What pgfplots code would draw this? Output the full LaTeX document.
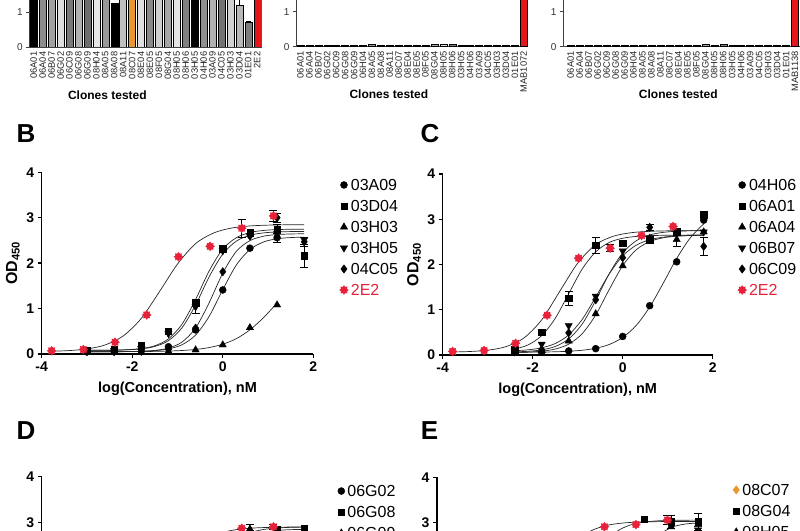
\documentclass[border=0pt]{standalone}
\usepackage{fontspec}
\setmainfont{Liberation Sans}
\usepackage{pgfplots}
\pgfplotsset{compat=1.18}
\usetikzlibrary{plotmarks}
\definecolor{rtwo}{HTML}{E8213A}
\definecolor{barred}{HTML}{E3161B}
\definecolor{orng}{HTML}{E8962E}
\newcommand{\fs}[1]{\fontsize{#1}{#1}\selectfont}
\newcommand{\onebar}[3]{\addplot[fill=#1] coordinates {(#2,#3)};}
\newcommand{\errbar}[4]{\addplot[fill=#1, error bars/.cd, y dir=plus, y explicit, error bar style={line width=0.6pt,black}, error mark options={rotate=90,mark size=2.5pt,line width=0.6pt,black}] coordinates {(#2,#3) +- (0,#4)};}
\pgfdeclareplotmark{burst}{%
  \pgfpathmoveto{\pgfpointpolar{90}{\pgfplotmarksize}}%
  \pgfpathlineto{\pgfpointpolar{112.5}{0.7\pgfplotmarksize}}%
  \pgfpathlineto{\pgfpointpolar{135}{\pgfplotmarksize}}%
  \pgfpathlineto{\pgfpointpolar{157.5}{0.7\pgfplotmarksize}}%
  \pgfpathlineto{\pgfpointpolar{180}{\pgfplotmarksize}}%
  \pgfpathlineto{\pgfpointpolar{202.5}{0.7\pgfplotmarksize}}%
  \pgfpathlineto{\pgfpointpolar{225}{\pgfplotmarksize}}%
  \pgfpathlineto{\pgfpointpolar{247.5}{0.7\pgfplotmarksize}}%
  \pgfpathlineto{\pgfpointpolar{270}{\pgfplotmarksize}}%
  \pgfpathlineto{\pgfpointpolar{292.5}{0.7\pgfplotmarksize}}%
  \pgfpathlineto{\pgfpointpolar{315}{\pgfplotmarksize}}%
  \pgfpathlineto{\pgfpointpolar{337.5}{0.7\pgfplotmarksize}}%
  \pgfpathlineto{\pgfpointpolar{0}{\pgfplotmarksize}}%
  \pgfpathlineto{\pgfpointpolar{22.5}{0.7\pgfplotmarksize}}%
  \pgfpathlineto{\pgfpointpolar{45}{\pgfplotmarksize}}%
  \pgfpathlineto{\pgfpointpolar{67.5}{0.7\pgfplotmarksize}}%
  \pgfpathclose\pgfusepathqfillstroke}
\pgfplotsset{
  barax/.style={scale only axis, anchor=south west, height=52.5pt,
    ymin=0, ymax=1.5, ytick={0,1}, xmax=25.5, enlargelimits=false,
    axis lines=left, axis line style={-, line width=0.8pt, black!75},
    ytick style={line width=0.8pt, black!75}, major tick length=3pt, tick align=outside,
    xtick={0,...,25}, xtick style={draw=none},
    xticklabel style={rotate=90, anchor=east, font=\fs{9.3}, inner sep=1.5pt, text=black!85},
    yticklabel style={font=\fs{10}, text=black!80},
    /pgf/number format/assume math mode=true,
    xlabel={Clones tested}, xlabel style={font=\bfseries\fs{12}, anchor=center},
    ybar, bar width=7pt,
    every axis plot post/.append style={bar shift=0pt, draw=black, line width=0.4pt},
  },
  doseax/.style={scale only axis, anchor=south west,
    xmin=-4, xmax=2, ymin=0, ymax=4, enlargelimits=false,
    xtick={-4,-2,0,2}, ytick={0,1,2,3,4},
    axis lines=left, axis line style={-, line width=1.3pt, black},
    tick align=outside, major tick length=4pt, tick style={line width=1.3pt, black},
    /pgf/number format/assume math mode=true,
    ticklabel style={font=\bfseries\fs{14}},
    xlabel={log(Concentration), nM},
    xlabel style={font=\bfseries\fs{14.5}, at={(axis description cs:0.5,-0.19)}, anchor=center},
    ylabel={OD\textsubscript{450}},
    ylabel style={font=\bfseries\fs{16}, at={(axis description cs:-0.106,0.5)}, anchor=center},
    legend cell align=left,
    legend style={draw=none, fill=none, font=\fs{16}, anchor=north west, column sep=2.5pt, row sep=9.5pt, nodes={inner sep=0pt, text height=11.5pt, text depth=0pt}},
    legend image code/.code={\draw[#1,only marks] plot coordinates {(0pt,0pt)};},
  },
  lowax/.style={ytick={3,4}, xticklabels={}, xlabel={}, ylabel={}},
  crv/.style={black!85, line width=0.7pt, smooth, no marks, forget plot},
  ebar/.style={forget plot, only marks, no marks, black,
    /pgfplots/error bars/y dir=both, /pgfplots/error bars/y explicit,
    /pgfplots/error bars/error bar style={line width=0.9pt, black},
    /pgfplots/error bars/error mark options={rotate=90, mark size=4pt, line width=0.9pt, black}},
  pts/.style={only marks, black},
  mcirc/.style={mark=*, mark size=3.5pt},
  msq/.style={mark=square*, mark size=3.2pt},
  mtri/.style={mark=triangle*, mark size=4.2pt},
  mdown/.style={mark=triangle*, mark size=4.2pt, mark options={rotate=180}},
  mdia/.style={mark=diamond*, mark size=4.2pt},
  mstar/.style={mark=burst, mark size=4.4pt, color=rtwo, mark options={fill=rtwo, draw=rtwo, line width=0.4pt}},
}
\begin{document}
\begin{tikzpicture}[x=1pt,y=1pt]
\useasboundingbox (0,0) rectangle (800,530);
\clip (0,0) rectangle (800,530);

% ---------------- top bar chart 1 ----------------
\begin{axis}[barax, at={(29.3pt,483pt)}, width=232.4pt, xmin=-0.5,
  xticklabels={06A01,06A04,06B07,06G02,06C09,06G08,06G09,08H04,08A05,08A08,08A11,08C07,08E04,08E05,08F05,08G04,08H05,08H06,03H05,04H06,03A09,04C05,03H03,03D04,01E01,2E2},
  xlabel style={at={(axis description cs:0.336,-0.914)}}]
\onebar{black}{0}{2.9}
\onebar{black!45}{1}{2.8}
\onebar{black!37}{2}{2.7}
\onebar{black!13}{3}{2.8}
\onebar{black!52}{4}{2.75}
\onebar{black!30}{5}{2.7}
\onebar{black!57}{6}{2.8}
\onebar{black!10}{7}{2.6}
\onebar{black!40}{8}{2.7}
\onebar{black}{9}{1.25}
\onebar{black!25}{10}{2.6}
\onebar{orng}{11}{2.7}
\onebar{black!12}{12}{2.8}
\onebar{black!46}{13}{2.7}
\onebar{black!19}{14}{2.6}
\onebar{black!35}{15}{2.9}
\onebar{black!11}{16}{2.7}
\onebar{black!50}{17}{2.8}
\onebar{black}{18}{2.9}
\onebar{black!44}{19}{2.6}
\onebar{black!31}{20}{2.7}
\onebar{black!55}{21}{2.8}
\onebar{black!18}{22}{2.7}
\errbar{black!28}{23}{1.2}{0.2}
\errbar{black!51}{24}{0.7}{0.04}
\onebar{barred}{25}{3.0}
\end{axis}

% ---------------- top bar chart 2 ----------------
\begin{axis}[barax, at={(296pt,483.3pt)}, width=232.2pt, xmin=-0.5,
  xticklabels={06A01,06A04,06B07,06G02,06C09,06G08,06G09,06H04,08A05,08A08,08A11,08C07,08E04,08E05,08F05,08G04,08H05,08H06,03H05,04H06,03A09,04C05,03H03,03D04,01E01,MAB1072},
  xlabel style={at={(axis description cs:0.40,-0.914)}}]
\onebar{black}{0}{0.05}
\onebar{black!45}{1}{0.04}
\onebar{black!37}{2}{0.04}
\onebar{black!13}{3}{0.04}
\onebar{black!52}{4}{0.04}
\onebar{black!30}{5}{0.04}
\onebar{black!57}{6}{0.04}
\onebar{black!10}{7}{0.04}
\onebar{black!40}{8}{0.06}
\onebar{black}{9}{0.05}
\onebar{black!25}{10}{0.04}
\onebar{orng}{11}{0.04}
\onebar{black!12}{12}{0.04}
\onebar{black!46}{13}{0.04}
\onebar{black!19}{14}{0.05}
\onebar{black!35}{15}{0.08}
\onebar{black!11}{16}{0.06}
\onebar{black!50}{17}{0.08}
\onebar{black}{18}{0.05}
\onebar{black!44}{19}{0.04}
\onebar{black!31}{20}{0.04}
\onebar{black!55}{21}{0.04}
\onebar{black!18}{22}{0.04}
\onebar{black!28}{23}{0.04}
\onebar{black!51}{24}{0.04}
\onebar{barred}{25}{3.0}
\end{axis}

% ---------------- top bar chart 3 ----------------
\begin{axis}[barax, at={(563pt,483.3pt)}, width=236.5pt, xmin=-0.86,
  xticklabels={06A01,06A04,06B07,06G02,06C09,06G08,06G09,06H04,08A05,08A08,08A11,08C07,08E04,08E05,08F05,08G04,08H05,08H06,03H05,04H06,03A09,04C05,03H03,03D04,01E01,MAB1138},
  xlabel style={at={(axis description cs:0.4875,-0.914)}}]
\onebar{black}{0}{0.05}
\onebar{black!45}{1}{0.04}
\onebar{black!37}{2}{0.04}
\onebar{black!13}{3}{0.04}
\onebar{black!52}{4}{0.05}
\onebar{black!30}{5}{0.04}
\onebar{black!57}{6}{0.04}
\onebar{black!10}{7}{0.04}
\onebar{black!40}{8}{0.04}
\onebar{black}{9}{0.05}
\onebar{black!25}{10}{0.04}
\onebar{orng}{11}{0.05}
\onebar{black!12}{12}{0.04}
\onebar{black!46}{13}{0.04}
\onebar{black!19}{14}{0.04}
\onebar{black!35}{15}{0.07}
\onebar{black!11}{16}{0.05}
\onebar{black!50}{17}{0.07}
\onebar{black}{18}{0.05}
\onebar{black!44}{19}{0.04}
\onebar{black!31}{20}{0.04}
\onebar{black!55}{21}{0.04}
\onebar{black!18}{22}{0.04}
\onebar{black!28}{23}{0.04}
\onebar{black!51}{24}{0.04}
\onebar{barred}{25}{3.0}
\end{axis}

% ---------------- panel B ----------------
\begin{axis}[doseax, at={(41.7pt,176pt)}, width=271.6pt, height=181.7pt,
  legend style={at={(axis description cs:1.085,0.974)}}]
\addplot[crv] coordinates {(-3.8,0.06)(-3.4,0.075)(-3.0,0.111)(-2.6,0.199)(-2.2,0.397)(-1.8,0.784)(-1.4,1.37)(-1.0,1.98)(-0.6,2.43)(-0.2,2.665)(0.2,2.774)(0.6,2.819)(1.0,2.837)(1.4,2.844)(1.8,2.847)};
\addplot[crv] coordinates {(-3.0,0.081)(-2.7,0.082)(-2.4,0.086)(-2.1,0.095)(-1.8,0.12)(-1.5,0.182)(-1.2,0.333)(-0.9,0.657)(-0.6,1.20)(-0.3,1.83)(0,2.31)(0.3,2.56)(0.6,2.675)(0.9,2.72)(1.2,2.739)(1.5,2.746)(1.8,2.748)};
\addplot[crv] coordinates {(-3.0,0.081)(-2.7,0.082)(-2.4,0.085)(-2.1,0.093)(-1.8,0.113)(-1.5,0.166)(-1.2,0.294)(-0.9,0.578)(-0.6,1.08)(-0.3,1.70)(0,2.20)(0.3,2.485)(0.6,2.614)(0.9,2.666)(1.2,2.687)(1.5,2.695)(1.8,2.698)};
\addplot[crv] coordinates {(-3.0,0.05)(-2.7,0.05)(-2.4,0.051)(-2.1,0.054)(-1.8,0.06)(-1.5,0.079)(-1.2,0.13)(-0.9,0.263)(-0.6,0.573)(-0.3,1.13)(0,1.78)(0.3,2.26)(0.6,2.496)(0.9,2.593)(1.2,2.63)(1.5,2.642)(1.8,2.647)};
\addplot[crv] coordinates {(-3.0,0.05)(-2.7,0.05)(-2.4,0.051)(-2.1,0.053)(-1.8,0.059)(-1.5,0.073)(-1.2,0.111)(-0.9,0.204)(-0.6,0.417)(-0.3,0.83)(0,1.416)(0.3,1.96)(0.6,2.30)(0.9,2.466)(1.2,2.537)(1.5,2.563)(1.8,2.573)};
\addplot[crv] coordinates {(-3.0,0.05)(-2.7,0.05)(-2.4,0.051)(-2.1,0.052)(-1.8,0.054)(-1.5,0.058)(-1.2,0.065)(-0.9,0.077)(-0.6,0.10)(-0.3,0.142)(0,0.215)(0.3,0.338)(0.6,0.532)(0.9,0.80)(1.2,1.125)};
\addplot[ebar] coordinates {(0.42,2.77) +- (0,0.2) (1.12,3.04) +- (0,0.13) (1.2,2.56) +- (0,0.1) (-0.6,1.04) +- (0,0.15) (1.2,2.75) +- (0,0.1) (1.2,3.0) +- (0,0.1) (1.8,2.47) +- (0,0.1) (1.8,2.16) +- (0,0.25)};
\addplot[pts,mcirc] coordinates {(-3,0.07)(-2.4,0.08)(-1.8,0.1)(-1.2,0.16)(-0.6,0.53)(0,1.41)(0.6,2.33)(1.2,2.56)};
\addlegendentry{03A09}
\addplot[pts,msq] coordinates {(-3,0.08)(-2.4,0.1)(-1.8,0.19)(-1.2,0.5)(-0.6,1.13)(0,2.32)(0.6,2.67)(1.2,2.75)(1.8,2.16)};
\addlegendentry{03D04}
\addplot[pts,mtri] coordinates {(-3,0.05)(-2.4,0.05)(-1.8,0.05)(-1.2,0.06)(-0.6,0.09)(0,0.2)(0.6,0.58)(1.2,1.08)};
\addlegendentry{03H03}
\addplot[pts,mdown] coordinates {(-3,0.07)(-2.4,0.08)(-1.8,0.12)(-1.2,0.45)(-0.6,1.04)(0,2.27)(0.6,2.6)(1.2,2.65)(1.8,2.52)};
\addlegendentry{03H05}
\addplot[pts,mdia] coordinates {(-3,0.05)(-2.4,0.05)(-1.8,0.06)(-1.2,0.1)(-0.6,0.57)(0,1.81)(0.6,2.6)(1.2,3.0)(1.8,2.47)};
\addlegendentry{04C05}
\addplot[pts,mstar] coordinates {(-3.78,0.07)(-3.08,0.1)(-2.38,0.26)(-1.68,0.86)(-0.98,2.14)(-0.28,2.37)(0.42,2.77)(1.12,3.04)};
\addlegendentry{\textcolor{rtwo}{2E2}}
\end{axis}

% ---------------- panel C ----------------
\begin{axis}[doseax, at={(442.7pt,175pt)}, width=270pt, height=181pt,
  legend style={at={(axis description cs:1.081,0.983)}}]
\addplot[crv] coordinates {(-3.8,0.066)(-3.4,0.077)(-3.0,0.106)(-2.6,0.183)(-2.2,0.372)(-1.8,0.776)(-1.4,1.405)(-1.0,2.03)(-0.6,2.44)(-0.2,2.627)(0.2,2.704)(0.6,2.733)(1.0,2.744)(1.4,2.748)(1.8,2.749)};
\addplot[crv] coordinates {(-2.4,0.129)(-2.1,0.224)(-1.8,0.428)(-1.5,0.809)(-1.2,1.355)(-0.9,1.90)(-0.6,2.28)(-0.3,2.487)(0,2.58)(0.3,2.62)(0.6,2.638)(0.9,2.645)(1.2,2.648)(1.5,2.65)(1.8,2.65)};
\addplot[crv] coordinates {(-2.4,0.095)(-2.1,0.115)(-1.8,0.159)(-1.5,0.253)(-1.2,0.445)(-0.9,0.787)(-0.6,1.28)(-0.3,1.79)(0,2.19)(0.3,2.426)(0.6,2.547)(0.9,2.604)(1.2,2.63)(1.5,2.641)(1.8,2.646)};
\addplot[crv] coordinates {(-2.4,0.069)(-2.1,0.082)(-1.8,0.114)(-1.5,0.188)(-1.2,0.356)(-0.9,0.684)(-0.6,1.206)(-0.3,1.795)(0,2.258)(0.3,2.524)(0.6,2.653)(0.9,2.71)(1.2,2.735)(1.5,2.744)(1.8,2.747)};
\addplot[crv] coordinates {(-2.4,0.056)(-2.1,0.064)(-1.8,0.084)(-1.5,0.131)(-1.2,0.239)(-0.9,0.471)(-0.6,0.885)(-0.3,1.446)(0,1.974)(0.3,2.325)(0.6,2.507)(0.9,2.59)(1.2,2.625)(1.5,2.64)(1.8,2.645)};
\addplot[crv] coordinates {(-2.4,0.061)(-2.1,0.063)(-1.8,0.066)(-1.5,0.071)(-1.2,0.083)(-0.9,0.105)(-0.6,0.149)(-0.3,0.232)(0,0.388)(0.3,0.653)(0.6,1.061)(0.9,1.586)(1.2,2.134)(1.5,2.587)(1.8,2.898)};
\addplot[ebar] coordinates {(-1.2,1.25) +- (0,0.15) (-0.6,2.42) +- (0,0.17) (-0.28,2.36) +- (0,0.08) (1.2,2.55) +- (0,0.15) (0.6,2.82) +- (0,0.07) (1.8,2.4) +- (0,0.2) (1.2,2.72) +- (0,0.08)};
\addplot[pts,mcirc] coordinates {(-2.4,0.07)(-1.8,0.06)(-1.2,0.09)(-0.6,0.14)(0,0.41)(0.6,1.09)(1.2,2.06)(1.8,2.98)};
\addlegendentry{04H06}
\addplot[pts,msq] coordinates {(-2.4,0.12)(-1.8,0.5)(-1.2,1.25)(-0.6,2.42)(0,2.47)(0.6,2.55)(1.2,2.72)(1.8,3.1)};
\addlegendentry{06A01}
\addplot[pts,mtri] coordinates {(-2.4,0.06)(-1.8,0.1)(-1.2,0.31)(-0.6,0.91)(0,1.97)(0.6,2.58)(1.2,2.55)(1.8,2.72)};
\addlegendentry{06A04}
\addplot[pts,mdown] coordinates {(-2.4,0.1)(-1.8,0.24)(-1.2,0.65)(-0.6,1.3)(0,2.3)(0.6,2.57)(1.2,2.7)(1.8,2.72)};
\addlegendentry{06B07}
\addplot[pts,mdia] coordinates {(-2.4,0.07)(-1.8,0.12)(-1.2,0.49)(-0.6,1.22)(0,2.15)(0.6,2.82)(1.2,2.7)(1.8,2.4)};
\addlegendentry{06C09}
\addplot[pts,mstar] coordinates {(-3.78,0.08)(-3.08,0.1)(-2.38,0.26)(-1.68,0.88)(-0.98,2.14)(-0.28,2.36)(0.42,2.64)(1.12,2.84)};
\addlegendentry{\textcolor{rtwo}{2E2}}
\end{axis}

% ---------------- panel D ----------------
\begin{axis}[doseax, lowax, at={(41.7pt,-129pt)}, width=271.6pt, height=182.3pt,
  legend style={at={(axis description cs:1.078,0.965)}}]
\addplot[crv] coordinates {(-3.8,0.06)(-3.4,0.075)(-3.0,0.112)(-2.6,0.202)(-2.2,0.403)(-1.8,0.797)(-1.4,1.39)(-1.0,2.02)(-0.6,2.47)(-0.2,2.71)(0.2,2.823)(0.6,2.869)(1.0,2.887)(1.4,2.894)(1.8,2.897)};
\addplot[crv] coordinates {(-3.0,0.063)(-2.7,0.066)(-2.4,0.075)(-2.1,0.094)(-1.8,0.136)(-1.5,0.228)(-1.2,0.418)(-0.9,0.767)(-0.6,1.284)(-0.3,1.863)(0,2.329)(0.3,2.619)(0.6,2.769)(0.9,2.842)(1.2,2.874)(1.5,2.889)(1.8,2.895)};
\addplot[crv] coordinates {(-3.0,0.05)(-2.7,0.052)(-2.4,0.055)(-2.1,0.063)(-1.8,0.081)(-1.5,0.125)(-1.2,0.227)(-0.9,0.448)(-0.6,0.859)(-0.3,1.45)(0,2.04)(0.3,2.452)(0.6,2.674)(0.9,2.774)(1.2,2.819)(1.5,2.838)(1.8,2.845)};
\addplot[ebar] coordinates {(0.6,2.85) +- (0,0.1) (1.12,2.9) +- (0,0.05)};
\addplot[pts,mcirc] coordinates {(-3,0.06)(-2.4,0.07)(-1.8,0.1)(-1.2,0.2)(-0.6,0.6)(0,1.5)(0.6,2.3)(1.2,2.6)(1.8,2.7)};
\addlegendentry{06G02}
\addplot[pts,msq] coordinates {(-3,0.06)(-2.4,0.08)(-1.8,0.14)(-1.2,0.42)(-0.6,1.3)(0,2.3)(0.6,2.75)(1.2,2.85)(1.8,2.87)};
\addlegendentry{06G08}
\addplot[pts,mtri] coordinates {(-3,0.05)(-2.4,0.06)(-1.8,0.08)(-1.2,0.22)(-0.6,0.85)(0,2.05)(0.6,2.85)(1.2,2.8)(1.8,2.82)};
\addlegendentry{06G09}
\addplot[pts,mdown,forget plot] coordinates {(-3,0.06)(-2.4,0.08)(-1.8,0.13)(-1.2,0.35)(-0.6,1.1)(0,2.2)(0.6,2.6)(1.2,2.7)(1.8,2.75)};
\addplot[pts,mstar,forget plot] coordinates {(-3.78,0.07)(-3.08,0.1)(-2.38,0.28)(-1.68,0.9)(-0.98,2.15)(-0.28,2.55)(0.42,2.87)(1.12,2.9)};
\end{axis}

% ---------------- panel E ----------------
\begin{axis}[doseax, lowax, at={(437pt,-127.3pt)}, width=270pt, height=180pt,
  legend style={at={(axis description cs:1.083,0.974)}}]
\addplot[crv] coordinates {(-3.8,0.071)(-3.4,0.091)(-3.0,0.143)(-2.6,0.278)(-2.2,0.593)(-1.8,1.173)(-1.4,1.907)(-1.0,2.49)(-0.6,2.80)(-0.2,2.937)(0.2,2.99)(0.6,3.009)(1.0,3.016)(1.4,3.019)(1.8,3.02)};
\addplot[crv] coordinates {(-3.0,0.064)(-2.7,0.07)(-2.4,0.085)(-2.1,0.12)(-1.8,0.203)(-1.5,0.389)(-1.2,0.754)(-0.9,1.334)(-0.6,1.989)(-0.3,2.503)(0,2.799)(0.3,2.942)(0.6,3.005)(0.9,3.032)(1.2,3.043)(1.5,3.047)(1.8,3.049)};
\addplot[crv] coordinates {(-3.0,0.05)(-2.7,0.05)(-2.4,0.05)(-2.1,0.051)(-1.8,0.051)(-1.5,0.054)(-1.2,0.062)(-0.9,0.085)(-0.6,0.153)(-0.3,0.336)(0,0.758)(0.3,1.475)(0.6,2.215)(0.9,2.676)(1.2,2.882)(1.5,2.959)(1.8,2.986)};
\addplot[ebar] coordinates {(1.12,3.05) +- (0,0.1) (1.2,3.01) +- (0,0.14) (1.8,3.01) +- (0,0.18)};
\addplot[pts,mdia,color=orng] coordinates {(-3,0.05)(-2.4,0.06)(-1.8,0.08)(-1.2,0.15)(-0.6,0.4)(0,1.1)(0.6,2.0)(1.2,2.5)(1.8,2.7)};
\addlegendentry{08C07}
\addplot[pts,msq] coordinates {(-3,0.06)(-2.4,0.08)(-1.8,0.15)(-1.2,0.45)(-0.6,1.4)(0,2.5)(0.6,3.07)(1.2,3.01)(1.8,3.01)};
\addlegendentry{08G04}
\addplot[pts,mtri] coordinates {(-3,0.05)(-2.4,0.05)(-1.8,0.06)(-1.2,0.1)(-0.6,0.25)(0,0.8)(0.6,2.0)(1.2,2.9)(1.8,2.95)};
\addlegendentry{08H05}
\addplot[pts,mdown,forget plot] coordinates {(-3,0.05)(-2.4,0.06)(-1.8,0.08)(-1.2,0.2)(-0.6,0.6)(0,1.6)(0.6,2.5)(1.2,2.75)(1.8,2.83)};
\addplot[pts,mstar,forget plot] coordinates {(-3.78,0.07)(-3.08,0.12)(-2.38,0.35)(-1.68,1.2)(-0.98,2.45)(-0.28,2.9)(0.42,2.95)(1.12,3.05)};
\end{axis}

% panel letters
\node[font=\bfseries\fs{26}] at (26,396) {B};
\node[font=\bfseries\fs{26}] at (430,396) {C};
\node[font=\bfseries\fs{26}] at (26,99) {D};
\node[font=\bfseries\fs{26}] at (429.5,99) {E};
\end{tikzpicture}
\end{document}
